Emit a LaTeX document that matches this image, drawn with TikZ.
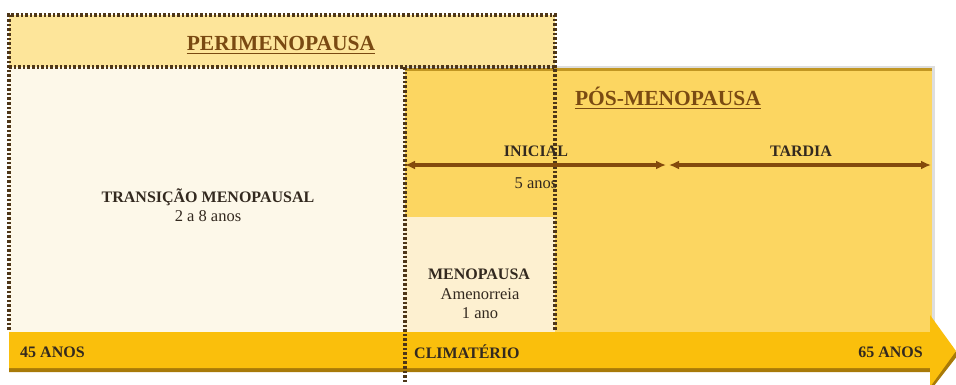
\documentclass[tikz,border=0pt]{standalone}
\usepackage{fontspec}
\setmainfont{Liberation Serif}
\usetikzlibrary{arrows.meta}
\definecolor{periBg}{HTML}{FDE59A}
\definecolor{transBg}{HTML}{FDF8E9}
\definecolor{posBg}{HTML}{FCD661}
\definecolor{menoBg}{HTML}{FDF0D0}
\definecolor{barCol}{HTML}{FABF0C}
\definecolor{barShadow}{HTML}{A87A08}
\definecolor{dotCol}{HTML}{4E3618}
\definecolor{titleCol}{HTML}{7A4A12}
\definecolor{txtCol}{HTML}{33291F}
\definecolor{arrCol}{HTML}{844A0C}
\tikzset{
  dotline/.style={draw=dotCol, line width=3.2pt, dash pattern=on 2.6pt off 2pt},
  titletxt/.style={text=titleCol, font=\fontsize{21.5}{25}\selectfont\bfseries, inner sep=0pt},
  boldtxt/.style={text=txtCol, font=\fontsize{16}{18}\selectfont\bfseries, inner sep=0pt},
  plaintxt/.style={text=txtCol, font=\fontsize{16.5}{18}\selectfont, inner sep=0pt},
  dblarrow/.style={draw=arrCol, line width=3.6pt, {Latex[length=10pt,width=9pt]}-{Latex[length=10pt,width=9pt]}}
}
\begin{document}
\begin{tikzpicture}[x=1pt,y=-1pt]
\useasboundingbox (0,0) rectangle (956,384);
\fill[white] (0,0) rectangle (956,384);
% backgrounds
\fill[periBg] (9,15) rectangle (555,67);
\fill[transBg] (9,67) rectangle (405,332);
\fill[black!25, opacity=0.5] (407,66) rectangle (935,332);
\fill[posBg] (405,68) rectangle (932,332);
\fill[barShadow!70!posBg] (405,68) rectangle (932,71);
\fill[menoBg] (405,217) rectangle (555,332);
% timeline arrow
\fill[barShadow] (9,336) -- (930,336) -- (930,319) -- (958,355) -- (930,391) -- (930,372) -- (9,372) -- cycle;
\fill[barCol] (9,332) -- (930,332) -- (930,315) -- (956,351) -- (930,387) -- (930,368) -- (9,368) -- cycle;
% dotted outlines
\coordinate (pTL) at (9,15);
\coordinate (pTR) at (555,15);
\coordinate (pML) at (9,67);
\coordinate (pMR) at (555,67);
\coordinate (pBL) at (9,330);
\coordinate (pBR) at (555,330);
\coordinate (cTop) at (405,67);
\coordinate (cBot) at (405,384);
\draw[dotline] (pBL) -- (pTL) -- (pTR) -- (pMR) -- (pBR);
\draw[dotline] (pML) -- (pMR);
\draw[dotline] (cTop) -- (cBot);
% titles
\node[titletxt] (peri) at (281,43) {PERIMENOPAUSA};
\draw[titleCol, line width=1.6pt] ([yshift=-3.5pt]peri.base west) -- ([yshift=-3.5pt]peri.base east);
\node[titletxt] (pos) at (668,96) {PÓS-MENOPAUSA};
\draw[titleCol, line width=1.6pt] ([yshift=-3.5pt]pos.base west) -- ([yshift=-3.5pt]pos.base east);
% inicial / tardia
\coordinate (aL) at (405,165);
\coordinate (aM1) at (666,165);
\coordinate (aM2) at (669,165);
\coordinate (aR) at (931,165);
\draw[dblarrow] (aL) -- (aM1);
\draw[dblarrow] (aM2) -- (aR);
\node[boldtxt] (ini) at (536,151) {INICIAL};
\node[plaintxt] (cinco) at (536,183) {5 anos};
\node[boldtxt] (tar) at (801,151) {TARDIA};
% transition
\node[boldtxt] (trans) at (208,197) {TRANSIÇÃO MENOPAUSAL};
\node[plaintxt] (trans2) at (208,216) {2 a 8 anos};
% menopausa
\node[boldtxt] (meno) at (479,274) {MENOPAUSA};
\node[plaintxt] (meno2) at (480,294) {Amenorreia};
\node[plaintxt] (meno3) at (480,313) {1 ano};
% bar labels
\node[boldtxt, anchor=west] (a45) at (20,352) {45 ANOS};
\node[boldtxt, anchor=west] (clim) at (414,352) {CLIMATÉRIO};
\node[boldtxt, anchor=east] (a65) at (923,352) {65 ANOS};
\end{tikzpicture}
\end{document}
